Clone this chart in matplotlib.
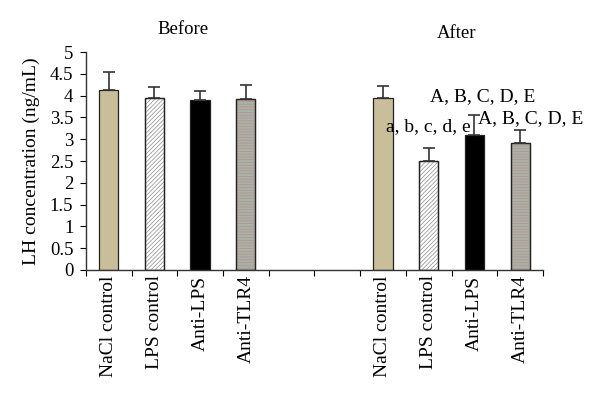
import matplotlib.pyplot as plt
import numpy as np

plt.rcParams["font.family"] = ["Liberation Serif", "DejaVu Serif"]
plt.rcParams["hatch.linewidth"] = 0.5

groups = ["NaCl control", "LPS control", "Anti-LPS", "Anti-TLR4"]
before_means = [4.12, 3.94, 3.91, 3.92]
before_errs = [0.42, 0.25, 0.20, 0.32]
after_means = [3.94, 2.50, 3.10, 2.91]
after_errs = [0.28, 0.29, 0.45, 0.30]
after_notes = ["a, b, c, d, e", "A, B, C, D, E", "A, B, C, D, E"]
note_x = [7.0, 8.17, 9.24]
note_y = [3.30, 3.98, 3.48]

face_colors = ["#c8bf9a", "#ffffff", "#000000", "#a9b39f"]
hatches = [None, "////////", None, "------"]
hatch_colors = ["#333333", "#8a8a8a", "#000000", "#b88ca4"]

# 4 before bars, 2 empty slots, 4 after bars
positions_before = np.arange(4)
positions_after = np.arange(6, 10)

fig = plt.figure(figsize=(6.0, 4.01), dpi=100)
ax = fig.add_axes([0.143, 0.327, 0.762, 0.543])

for pos_list, means, errs in [(positions_before, before_means, before_errs),
                              (positions_after, after_means, after_errs)]:
    for i, (pos, m, e) in enumerate(zip(pos_list, means, errs)):
        ax.bar(pos, m, width=0.42, color=face_colors[i], edgecolor="#222222",
               linewidth=0.9, zorder=2)
        if hatches[i]:
            ax.bar(pos, m, width=0.42, color="none", edgecolor=hatch_colors[i],
                   linewidth=0, hatch=hatches[i], zorder=2)
            ax.bar(pos, m, width=0.42, color="none", edgecolor="#222222",
                   linewidth=0.9, zorder=3)
        ax.errorbar(pos, m, yerr=[[0], [e]], fmt="none", ecolor="#333333",
                    elinewidth=1.2, capsize=4, capthick=1.2, zorder=4)

for x, y, text in zip(note_x, note_y, after_notes):
    ax.text(x, y, text, fontsize=14, ha="center", va="center", zorder=5)

ax.set_xlim(-0.5, 9.5)
ax.set_ylim(0, 5)
ax.set_yticks(np.arange(0, 5.01, 0.5))
ax.set_yticklabels(["0", "0.5", "1", "1.5", "2", "2.5", "3", "3.5", "4", "4.5", "5"])
ax.set_xticks(np.arange(-0.5, 10, 1))
ax.set_xticklabels([])
ax.set_xticks(list(positions_before) + list(positions_after), minor=True)
ax.set_xticklabels(groups + groups, minor=True, rotation=90, fontsize=14)
ax.tick_params(axis="x", which="minor", length=0, pad=4)
ax.tick_params(axis="x", which="major", length=4, direction="out")
ax.tick_params(axis="y", length=4, direction="out", labelsize=13.5, pad=5)
ax.set_ylabel("LH concentration (ng/mL)", fontsize=14, labelpad=7)

for side in ["top", "right"]:
    ax.spines[side].set_visible(False)
for side in ["left", "bottom"]:
    ax.spines[side].set_color("#333333")
    ax.spines[side].set_linewidth(1.0)

fig.text(183 / 600, 1 - 30 / 401, "Before", fontsize=13.5, ha="center", va="center")
fig.text(457 / 600, 1 - 33 / 401, "After", fontsize=13.5, ha="center", va="center")

fig.savefig("out.png", dpi=100)
